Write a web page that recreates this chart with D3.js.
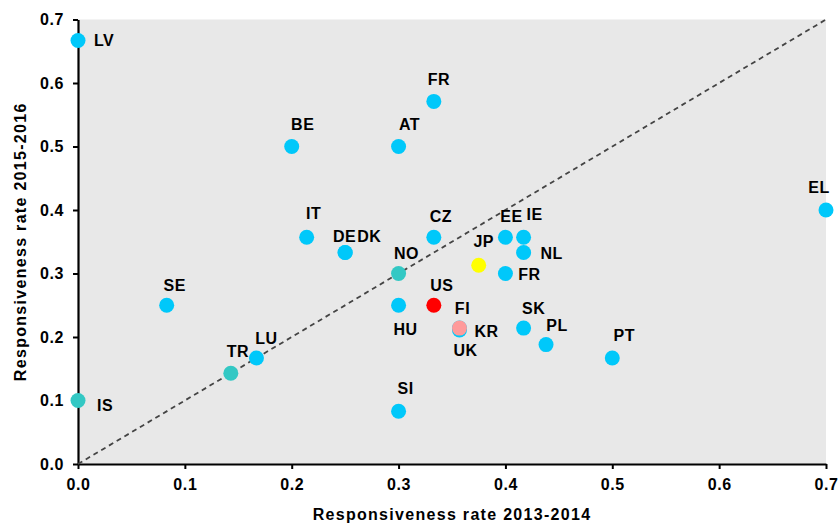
<!DOCTYPE html>
<html>
<head>
<meta charset="utf-8">
<script src="https://cdn.jsdelivr.net/npm/d3@7"></script>
<style>
  body { margin: 0; background: #fff; }
  text { font-family: "Liberation Sans", Arial, sans-serif; font-weight: bold; }
</style>
</head>
<body>
<svg id="chart"></svg>
<script>

// country codes, one per point
const countries = ['LV', 'IS', 'SE', 'TR', 'LU', 'BE', 'AT', 'FR', 'IT', 'DE', 'DK', 'CZ',
                   'EE', 'IE', 'NL', 'FR', 'NO', 'HU', 'UK', 'FI', 'SK', 'PL', 'PT', 'EL',
                   'SI', 'JP', 'US', 'KR'];
// responsiveness rate 2013-2014
const rate1314 = [0.000, 0.000, 0.083, 0.143, 0.167, 0.200, 0.300, 0.333, 0.214, 0.250, 0.250, 0.333,
                  0.400, 0.417, 0.417, 0.400, 0.300, 0.300, 0.357, 0.357, 0.417, 0.438, 0.500, 0.700,
                  0.300, 0.375, 0.333, 0.357];
// responsiveness rate 2015-2016
const rate1516 = [0.667, 0.100, 0.250, 0.143, 0.167, 0.500, 0.500, 0.571, 0.357, 0.333, 0.333, 0.357,
                  0.357, 0.357, 0.333, 0.300, 0.300, 0.250, 0.211, 0.214, 0.214, 0.188, 0.167, 0.400,
                  0.083, 0.313, 0.250, 0.214];
// group decides the dot colour
const groups = ['eu', 'efta', 'eu', 'efta', 'eu', 'eu', 'eu', 'eu', 'eu', 'eu', 'eu', 'eu',
                'eu', 'eu', 'eu', 'eu', 'efta', 'eu', 'eu', 'eu', 'eu', 'eu', 'eu', 'eu',
                'eu', 'jp', 'us', 'kr'];

const xTicks = [0, 0.1, 0.2, 0.3, 0.4, 0.5, 0.6, 0.7];
const yTicks = [0, 0.1, 0.2, 0.3, 0.4, 0.5, 0.6, 0.7];

const colors = {eu: '#00c8fa', efta: '#33c8c4', jp: '#ffff00', us: '#ff0000', kr: '#ff9a9a'};

// label placement next to each dot (dx, dy in px, anchor)
const labelPos = [[16, 6, 'start'], [19, 10, 'start'], [8, -14, 'middle'], [7, -16, 'middle'], [10, -14, 'middle'],
                  [11, -17, 'middle'], [11, -17, 'middle'], [5, -16, 'middle'], [7, -18, 'middle'], [11, -11, 'end'],
                  [12, -11, 'start'], [7, -15, 'middle'], [6, -15, 'middle'], [11, -17, 'middle'], [28, 6, 'middle'],
                  [24, 6, 'middle'], [8, -15, 'middle'], [7, 30, 'middle'], [6, 26, 'middle'], [3, -14, 'middle'],
                  [10, -14, 'middle'], [11, -14, 'middle'], [12, -17, 'middle'], [-7, -17, 'middle'], [7, -17, 'middle'],
                  [5, -18, 'middle'], [8, -14, 'middle'], [27, 9, 'middle']];

const data = countries.map((c, i) => ({code: c, x: rate1314[i], y: rate1516[i], g: groups[i], lp: labelPos[i]}));

const W = 838, H = 526;
const margin = {top: 19.5, right: 12, bottom: 62, left: 78},
      width = W - margin.left - margin.right,
      height = H - margin.top - margin.bottom;

const svg = d3.select('#chart')
    .attr('width', W)
    .attr('height', H)
  .append('g')
    .attr('transform', 'translate(' + margin.left + ',' + margin.top + ')');

svg.append('rect')
   .attr('width', width)
   .attr('height', height)
   .attr('fill', '#e8e8e8');

//--------------SCALES---------------------------------------
const xScale = d3.scaleLinear().domain([0, 0.7]).range([0, width]);
const yScale = d3.scaleLinear().domain([0, 0.7]).range([height, 0]);

//--------------AXES----------------------------------------
const axisX = svg.append('g')
    .attr('transform', 'translate(0,' + height + ')')
    .call(d3.axisBottom(xScale).tickValues(xTicks).tickFormat(d3.format('.1f'))
            .tickSizeInner(5).tickSizeOuter(0).tickPadding(10));

const axisY = svg.append('g')
    .call(d3.axisLeft(yScale).tickValues(yTicks).tickFormat(d3.format('.1f'))
            .tickSizeInner(5).tickSizeOuter(0).tickPadding(9));

[axisX, axisY].forEach(a => {
  a.select('.domain').attr('stroke', '#000').attr('stroke-width', 2.2);
  a.selectAll('.tick line').attr('stroke', '#000').attr('stroke-width', 2);
  a.selectAll('.tick text')
   .attr('fill', '#000')
   .style('font-size', '16px')
   .style('letter-spacing', '0.6px')
   .style('font-family', '"Liberation Sans", Arial, sans-serif')
   .style('font-weight', 'bold');
});

//------------DIAGONAL----------------------------------------
svg.append('line')
   .attr('x1', xScale(0)).attr('y1', yScale(0))
   .attr('x2', xScale(0.7)).attr('y2', yScale(0.7))
   .attr('stroke', '#444')
   .attr('stroke-width', 1.8)
   .attr('stroke-dasharray', '5,4');

//-------------POINTS----------------------------------------------
svg.selectAll('circle.pt')
   .data(data)
   .enter().append('circle')
   .attr('class', 'pt')
   .attr('cx', d => xScale(d.x))
   .attr('cy', d => yScale(d.y))
   .attr('r', 7.5)
   .attr('fill', d => colors[d.g]);

svg.selectAll('text.lbl')
   .data(data)
   .enter().append('text')
   .attr('class', 'lbl')
   .attr('x', d => xScale(d.x) + d.lp[0])
   .attr('y', d => yScale(d.y) + d.lp[1])
   .attr('text-anchor', d => d.lp[2])
   .style('font-size', '16px')
   .style('letter-spacing', '0.5px')
   .attr('fill', '#000')
   .text(d => d.code);

//-------------TITLES----------------------------------------------
svg.append('text')
   .attr('x', width / 2)
   .attr('y', height + 56)
   .attr('text-anchor', 'middle')
   .style('font-size', '16px')
   .style('letter-spacing', '1.3px')
   .text('Responsiveness rate 2013-2014');

svg.append('text')
   .attr('transform', 'translate(' + (-52) + ',' + (height / 2) + ') rotate(-90)')
   .attr('text-anchor', 'middle')
   .style('font-size', '16px')
   .style('letter-spacing', '1.3px')
   .text('Responsiveness rate 2015-2016');

</script>
</body>
</html>
